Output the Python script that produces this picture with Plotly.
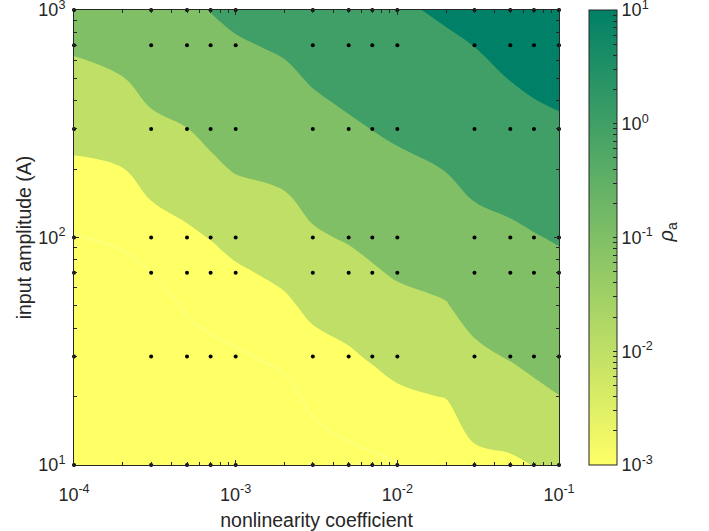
import math
import plotly.graph_objects as go

# Grid of nonlinearity coefficient (x) and input amplitude (y)
x_grid = [1e-4, 2e-4, 3e-4, 5e-4, 7e-4, 1e-3, 2e-3, 3e-3, 5e-3, 7e-3,
          1e-2, 2e-2, 3e-2, 5e-2, 7e-2, 1e-1]
y_grid = [10, 20, 30, 50, 70, 100, 200, 300, 500, 700, 1000]

# log10(rho_a), one row per input amplitude
log_rho_a10 = [-6.0, -5.6, -5.3, -4.6, -4.4, -4.3, -4.1, -3.52, -3.24, -3.16, -3.03, -2.81, -2.21, -2.13, -1.98, -1.86]
log_rho_a20 = [-5.1, -4.76, -4.5, -3.84, -3.67, -3.59, -3.28, -2.78, -2.53, -2.36, -2.14, -1.97, -1.54, -1.36, -1.16, -1.01]
log_rho_a30 = [-4.64, -4.28, -4.0, -3.42, -3.24, -3.12, -2.78, -2.34, -2.11, -1.91, -1.72, -1.56, -1.15, -0.95, -0.82, -0.74]
log_rho_a50 = [-3.97, -3.67, -3.50, -2.88, -2.70, -2.52, -2.16, -1.80, -1.60, -1.41, -1.22, -1.04, -0.74, -0.60, -0.49, -0.40]
log_rho_a70 = [-3.52, -3.27, -3.01, -2.53, -2.35, -2.13, -1.80, -1.46, -1.26, -1.08, -0.92, -0.78, -0.50, -0.38, -0.27, -0.18]
log_rho_a100 = [-3.05, -2.84, -2.46, -2.15, -1.97, -1.71, -1.43, -1.10, -0.93, -0.80, -0.66, -0.51, -0.24, -0.14, -0.04, 0.06]
log_rho_a200 = [-2.15, -2.02, -1.60, -1.43, -1.15, -0.94, -0.80, -0.58, -0.42, -0.29, -0.16, 0.02, 0.22, 0.36, 0.47, 0.57]
log_rho_a300 = [-1.71, -1.57, -1.17, -1.01, -0.81, -0.66, -0.51, -0.29, -0.11, 0.01, 0.12, 0.29, 0.48, 0.65, 0.77, 0.87]
log_rho_a500 = [-1.21, -1.02, -0.75, -0.64, -0.46, -0.31, -0.14, 0.07, 0.26, 0.39, 0.44, 0.64, 0.80, 1.02, 1.15, 1.24]
log_rho_a700 = [-0.90, -0.76, -0.50, -0.39, -0.22, -0.08, 0.10, 0.31, 0.50, 0.64, 0.66, 0.87, 1.01, 1.26, 1.40, 1.49]
log_rho_a1000 = [-0.62, -0.49, -0.25, -0.13, 0.02, 0.17, 0.35, 0.57, 0.76, 0.90, 0.88, 1.12, 1.24, 1.52, 1.67, 1.75]

log_rho = [log_rho_a10, log_rho_a20, log_rho_a30, log_rho_a50, log_rho_a70,
           log_rho_a100, log_rho_a200, log_rho_a300, log_rho_a500,
           log_rho_a700, log_rho_a1000]

# Simulated operating points (markers)
x_points = [1e-4, 3e-4, 5e-4, 7e-4, 1e-3, 3e-3, 5e-3, 7e-3, 1e-2,
            3e-2, 5e-2, 7e-2, 1e-1]
y_points = [10, 30, 70, 100, 300, 700, 1000]

# Tick labels
x_tickvals = [1e-4, 1e-3, 1e-2, 1e-1]
x_ticktext = ["10<sup>-4</sup>", "10<sup>-3</sup>", "10<sup>-2</sup>", "10<sup>-1</sup>"]
y_tickvals = [10, 100, 1000]
y_ticktext = ["10<sup>1</sup>", "10<sup>2</sup>", "10<sup>3</sup>"]
cb_ticktext = ["10<sup>-3</sup>", "10<sup>-2</sup>", "10<sup>-1</sup>", "10<sup>0</sup>", "10<sup>1</sup>"]

# 'summer' colours
YELLOW = "#ffff66"
C2 = "#bfdf66"
C3 = "#80bf66"
C4 = "#409f66"
DARK = "#008066"
AX = "#262626"
FONT = "Liberation Sans, Arial, sans-serif"
TICK_SIZE = 18
TITLE_SIZE = 19.5

EPS = 1e-5

# plot-area edges in pixels
LEFT, RIGHT, TOP, BOTTOM = 74, 559, 10, 465
W, H = 709, 531

fig = go.Figure()

fig.add_trace(go.Contour(
    x=x_grid, y=y_grid, z=log_rho,
    autocontour=False,
    contours=dict(start=-3, end=1, size=1, coloring="fill", showlines=False),
    colorscale=[[0, YELLOW], [0.2, YELLOW], [0.4, C2], [0.6, C3], [0.8, C4], [1, DARK]],
    line=dict(width=0),
    showscale=False,
    hoverinfo="skip",
))

# faint 1e-3 level inside the lowest band
fig.add_trace(go.Contour(
    x=x_grid, y=y_grid, z=log_rho,
    autocontour=False,
    contours=dict(start=-3, end=-3, size=1, coloring="none"),
    line=dict(width=0.8, color="rgba(255,255,255,0.4)"),
    showscale=False,
    hoverinfo="skip",
))

px_, py_ = [], []
for yv in y_points:
    for xv in x_points:
        px_.append(xv)
        py_.append(yv)
fig.add_trace(go.Scatter(
    x=px_, y=py_, mode="markers",
    marker=dict(color="black", size=4),
    cliponaxis=False, hoverinfo="skip", showlegend=False,
))

# continuous colour bar with log minor ticks
cb_vals, cb_text = [], []
for d in range(-3, 1):
    for k in range(1, 10):
        cb_vals.append(d + math.log10(k))
        cb_text.append(cb_ticktext[d + 3] if k == 1 else "")
cb_vals.append(1)
cb_text.append(cb_ticktext[4])

fig.add_trace(go.Scatter(
    x=[1e-4], y=[10], mode="markers",
    marker=dict(
        color=[-3], cmin=-3 - EPS, cmax=1 + EPS, opacity=0, size=1,
        colorscale=[[0, YELLOW], [1, DARK]],
        showscale=True,
        colorbar=dict(
            thickness=28, thicknessmode="pixels",
            len=1, lenmode="fraction", y=0.5, yanchor="middle",
            x=(589 - LEFT) / (RIGHT - LEFT), xanchor="left", xpad=0, ypad=0,
            outlinecolor=AX, outlinewidth=1,
            ticks="inside", ticklen=4, tickcolor=AX,
            tickvals=cb_vals, ticktext=cb_text,
            ticklabeloverflow="allow",
            tickfont=dict(family=FONT, size=TICK_SIZE, color=AX),
        ),
    ),
    hoverinfo="skip", showlegend=False,
))

minor_x = [k * 10 ** d for d in range(-4, -1) for k in range(2, 10)]
minor_y = [k * 10 ** d for d in range(1, 3) for k in range(2, 10)]

fig.update_xaxes(
    type="log", range=[-4 - EPS, -1 + EPS],
    tickvals=x_tickvals, ticktext=x_ticktext,
    ticks="inside", ticklen=5, tickcolor=AX,
    minor=dict(ticks="inside", ticklen=3, tickcolor=AX, tickmode="array", tickvals=minor_x),
    showline=True, linecolor=AX, linewidth=1, mirror="ticks",
    showgrid=False, zeroline=False,
    ticklabelstandoff=13, ticklabeloverflow="allow",
    tickfont=dict(family=FONT, size=TICK_SIZE, color=AX),
    title=dict(text="nonlinearity coefficient",
               font=dict(family=FONT, size=TITLE_SIZE, color=AX), standoff=10),
)
fig.update_yaxes(
    type="log", range=[1 - EPS, 3 + EPS],
    tickvals=y_tickvals, ticktext=y_ticktext,
    ticks="inside", ticklen=5, tickcolor=AX,
    minor=dict(ticks="inside", ticklen=3, tickcolor=AX, tickmode="array", tickvals=minor_y),
    showline=True, linecolor=AX, linewidth=1, mirror="ticks",
    showgrid=False, zeroline=False,
    ticklabelstandoff=4, ticklabeloverflow="allow",
    tickfont=dict(family=FONT, size=TICK_SIZE, color=AX),
    title=dict(text="input amplitude (A)",
               font=dict(family=FONT, size=TITLE_SIZE, color=AX), standoff=1),
)

# colour bar label, positioned in plot-area fractions
fig.add_annotation(
    x=(681 - LEFT) / (RIGHT - LEFT), y=(BOTTOM - 233) / (BOTTOM - TOP),
    xref="paper", yref="paper",
    text="<i>ρ</i><sub>a</sub>",
    showarrow=False, textangle=-90,
    font=dict(family=FONT, size=20, color=AX),
)

fig.update_layout(
    width=W, height=H,
    margin=dict(l=LEFT, r=W - RIGHT, t=TOP, b=H - BOTTOM, autoexpand=False),
    paper_bgcolor="white", plot_bgcolor="white",
    showlegend=False,
)

fig.write_html("out.html")
